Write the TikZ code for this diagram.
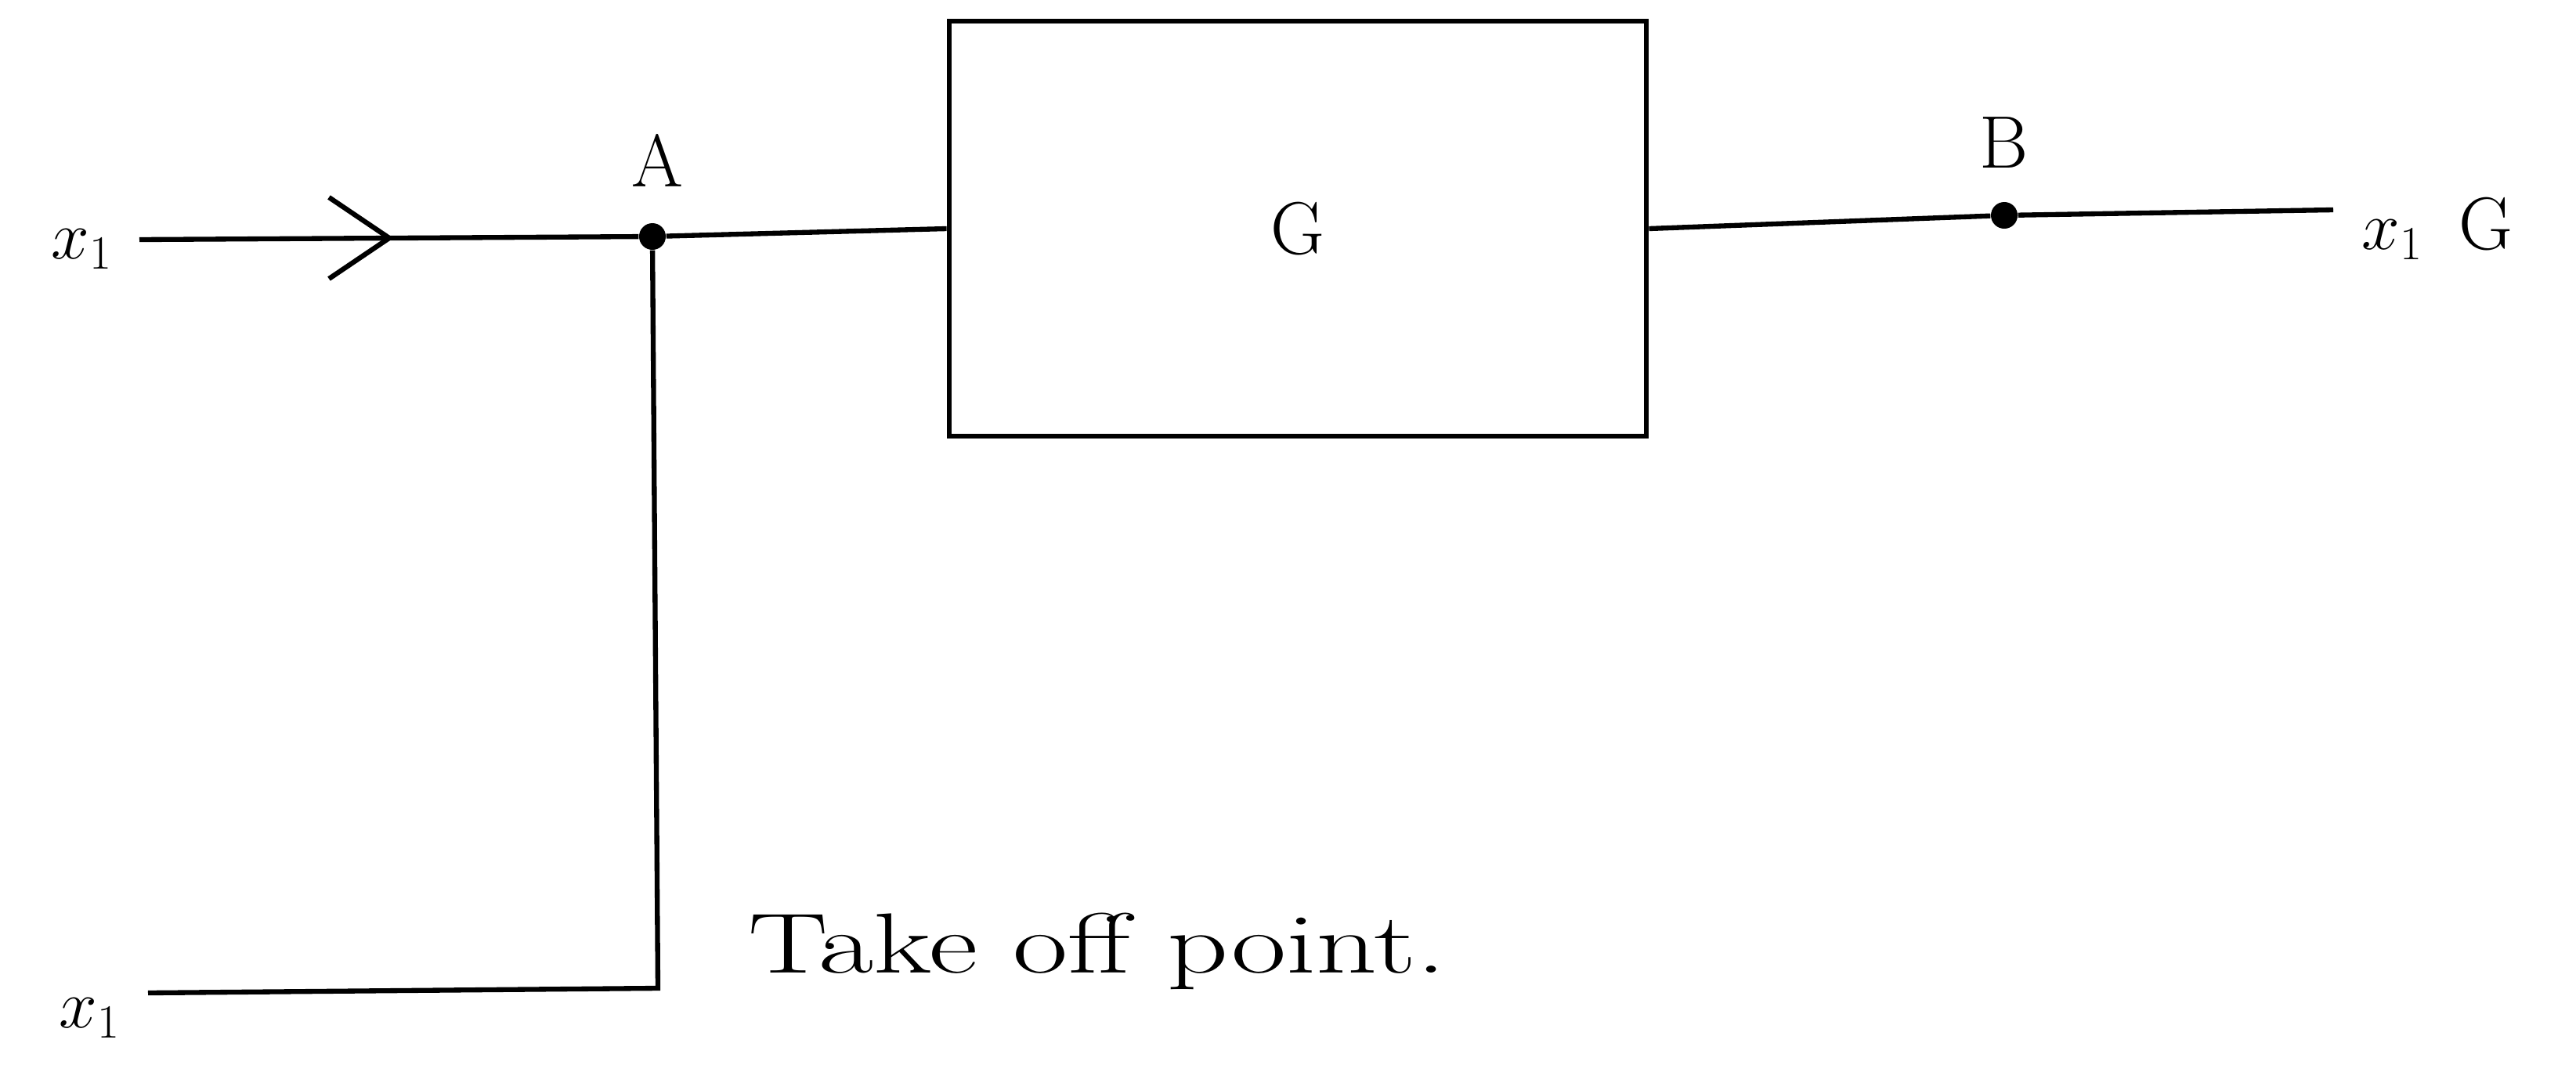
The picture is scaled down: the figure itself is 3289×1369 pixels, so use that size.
\documentclass[tikz,border=0pt]{standalone}
\begin{document}
\begin{tikzpicture}[x=0.01cm,y=-0.01cm,
  wire/.style={line width=1.8pt},
  dotnode/.style={circle,fill=black,inner sep=0pt,minimum size=0.34cm},
  lbl/.style={font=\fontsize{27}{32}\selectfont,inner sep=0pt},
  blk/.style={draw,line width=1.8pt,minimum width=8.9cm,minimum height=5.3cm,font=\fontsize{27}{32}\selectfont}]
\useasboundingbox (0,0) rectangle (3289,1369);
\node[blk] (G) at (1657,292) {G};
\node[dotnode] (A) at (833,302) {};
\node[dotnode] (B) at (2559,275) {};
\coordinate (in) at (178,306);
\coordinate (out) at (2979,268);
\coordinate (corner) at (840,1262);
\coordinate (low) at (189,1268);
\coordinate (tip) at (497,304);
\coordinate (w1) at (420,252);
\coordinate (w2) at (420,356);
\draw[wire] (in) -- (A) -- (G.west);
\draw[wire] (G.east) -- (B) -- (out);
\draw[wire] (A) -- (corner) -- (low);
\draw[wire] (w1) -- (tip) -- (w2);
\node[lbl] (lA) at (839,205) {A};
\node[lbl] (lB) at (2559,182) {B};
\node[lbl] (xin) at (105,318) {$x_1$};
\node[lbl] (xlow) at (115,1300) {$x_1$};
\node[lbl,anchor=west] (xout) at (3015,292) {$x_1$\hspace{0.45cm}G};
\node[lbl,anchor=west,font=\fontsize{31}{36}\selectfont] (tk) at (955,1215) {\scalebox{1.4}[1]{Take off point.}};
\end{tikzpicture}
\end{document}
